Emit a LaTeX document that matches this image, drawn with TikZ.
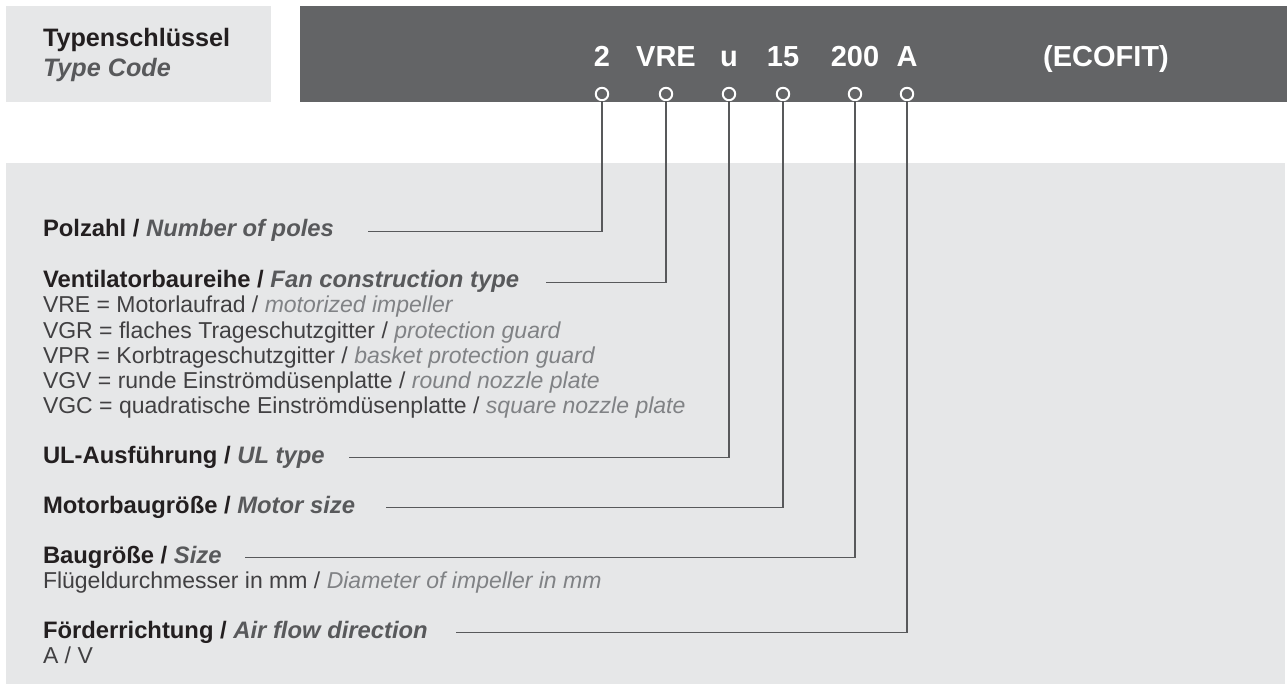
\documentclass[tikz,border=0pt]{standalone}
\usepackage{fontspec}
\setmainfont{Liberation Sans}
\definecolor{darkbox}{HTML}{636466}
\definecolor{lightbox}{HTML}{E6E7E8}
\definecolor{hdc}{HTML}{231F20}
\definecolor{bic}{HTML}{58595B}
\definecolor{regc}{HTML}{414042}
\definecolor{ric}{HTML}{808285}
\definecolor{linec}{HTML}{58595B}
\tikzset{
  txt/.style={anchor=base west, inner sep=0pt, outer sep=0pt, font=\fontsize{23}{25}\selectfont},
  txtb/.style={anchor=base west, inner sep=0pt, outer sep=0pt, font=\fontsize{23.8}{25}\selectfont\bfseries},
  ttl/.style={anchor=base west, inner sep=0pt, outer sep=0pt, font=\fontsize{25.2}{29}\selectfont\bfseries},
  hd/.style={anchor=base, inner sep=0pt, text=white, font=\fontsize{29}{33}\selectfont\bfseries},
  circ/.style={circle, draw=white, line width=2pt, fill=darkbox, minimum size=12.4pt, inner sep=0pt},
  conn/.style={draw=linec, line width=1.6pt}
}
\begin{document}
\begin{tikzpicture}[x=1pt,y=-1pt]
\useasboundingbox (0,0) rectangle (1287,684);
% boxes
\fill[lightbox] (6,6) rectangle (271,102);
\fill[darkbox] (300,6) rectangle (1287,102);
\fill[lightbox] (6,163) rectangle (1285,684);
% title
\node[ttl, text=hdc] (t1) at (43,47) {Typenschlüssel};
\node[ttl, text=bic] (t2) at (43,77) {\itshape Type Code};
% header code
\node[hd] (h1) at (602,67) {2};
\node[hd] (h2) at (666,67) {VRE};
\node[hd] (h3) at (729,67) {u};
\node[hd] (h4) at (783,67) {15};
\node[hd] (h5) at (855,67) {200};
\node[hd] (h6) at (907,67) {A};
\node[hd] (h7) at (1106,67) {(ECOFIT)};
% circles
\node[circ] (c1) at (602,94) {};
\node[circ] (c2) at (666,94) {};
\node[circ] (c3) at (729,94) {};
\node[circ] (c4) at (783,94) {};
\node[circ] (c5) at (855,94) {};
\node[circ] (c6) at (907,94) {};
% text lines
\node[txtb] (polzahl) at (43,237) {\color{hdc}Polzahl / \color{bic}\itshape Number of poles};
\node[txtb] (ventil) at (43,288) {\color{hdc}Ventilatorbaureihe / \color{bic}\itshape Fan construction type};
\node[txt] (vre) at (43,313) {\color{regc}VRE = Motorlaufrad / \color{ric}\itshape motorized impeller};
\node[txt] (vgr) at (43,338) {\color{regc}VGR = flaches Trageschutzgitter / \color{ric}\itshape protection guard};
\node[txt] (vpr) at (43,363) {\color{regc}VPR = Korbtrageschutzgitter / \color{ric}\itshape basket protection guard};
\node[txt] (vgv) at (43,388) {\color{regc}VGV = runde Einströmdüsenplatte / \color{ric}\itshape round nozzle plate};
\node[txt] (vgc) at (43,413) {\color{regc}VGC = quadratische Einströmdüsenplatte / \color{ric}\itshape square nozzle plate};
\node[txtb] (ul) at (43,463) {\color{hdc}UL-Ausführung / \color{bic}\itshape UL type};
\node[txtb] (motor) at (43,513) {\color{hdc}Motorbaugröße / \color{bic}\itshape Motor size};
\node[txtb] (bau) at (43,563) {\color{hdc}Baugröße / \color{bic}\itshape Size};
\node[txt] (fluegel) at (43,588) {\color{regc}Flügeldurchmesser in mm / \color{ric}\itshape Diameter of impeller in mm};
\node[txtb] (foerder) at (43,638) {\color{hdc}Förderrichtung / \color{bic}\itshape Air flow direction};
\node[txt] (av) at (43,663) {\color{regc}A / V};
% connector free ends
\coordinate (l1) at (368,231.5);
\coordinate (l2) at (546,282.5);
\coordinate (l3) at (349,457.5);
\coordinate (l4) at (386,507.5);
\coordinate (l5) at (245,557.5);
\coordinate (l6) at (456,632.5);
% connectors
\draw[conn] (l1) -| (c1.south);
\draw[conn] (l2) -| (c2.south);
\draw[conn] (l3) -| (c3.south);
\draw[conn] (l4) -| (c4.south);
\draw[conn] (l5) -| (c5.south);
\draw[conn] (l6) -| (c6.south);
\end{tikzpicture}
\end{document}
